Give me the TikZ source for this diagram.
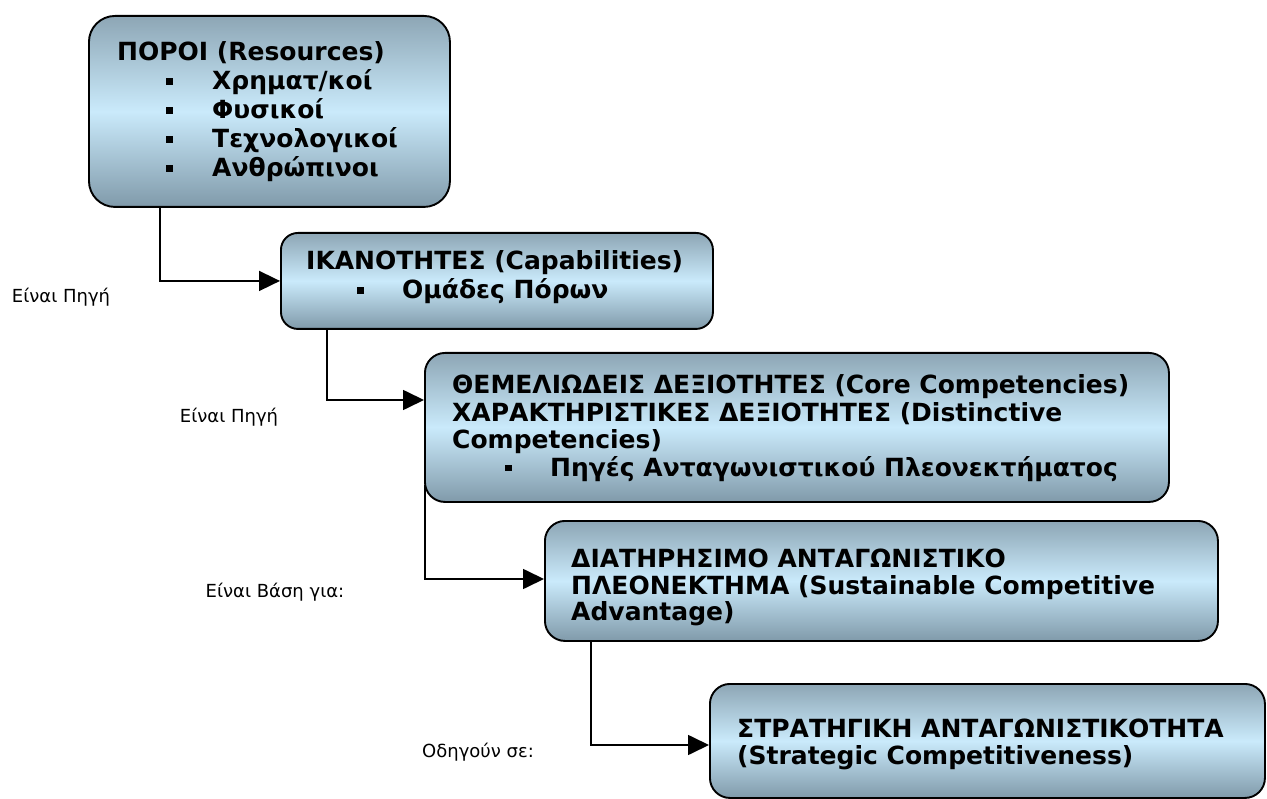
\documentclass[tikz,border=0pt]{standalone}
\usepackage{fontspec}
\setmainfont{DejaVu Sans}
\usetikzlibrary{arrows.meta,backgrounds}
\definecolor{boxtop}{RGB}{141,166,181}
\definecolor{boxmid}{RGB}{202,234,251}
\definecolor{boxbot}{RGB}{128,154,170}
\begin{document}
\begin{tikzpicture}[x=1pt,y=-1pt,
 box/.style={draw=black, line width=1.9pt, rounded corners=20pt, top color=boxtop, bottom color=boxbot, middle color=boxmid, anchor=north west, inner sep=0pt},
 txt/.style={anchor=base west, inner sep=0pt, font=\fontsize{25}{29}\selectfont\bfseries},
 lbl/.style={anchor=base, inner sep=0pt, font=\fontsize{18}{22}\selectfont},
 conn/.style={line width=1.7pt, -{Triangle[length=21pt,width=20pt]}}]
\path[use as bounding box] (0,0) rectangle (1267,799);
\newcommand{\sqbul}{\rule[5pt]{6.5pt}{6.5pt}}
% boxes
\node[box, rounded corners=26pt, minimum width=361pt, minimum height=191pt] (b1) at (88,15) {};
\node[box, rounded corners=17pt, minimum width=432pt, minimum height=96pt] (b2) at (280,232) {};
\node[box, minimum width=744pt, minimum height=149pt] (b3) at (424,352) {};
\node[box, minimum width=673pt, minimum height=120pt] (b4) at (544,520) {};
\node[box, minimum width=555pt, minimum height=114pt] (b5) at (709,683) {};
% background and connectors
\begin{scope}[on background layer]
\fill[white] (0,0) rectangle (1267,799);
\draw[conn] ([xshift=72pt,yshift=10pt]b1.south west) |- (b2.west);
\draw[conn] ([xshift=47pt,yshift=10pt]b2.south west) |- ([yshift=-48pt]b3.north west);
\draw[conn] ([xshift=1pt,yshift=18pt]b3.south west) |- ([yshift=-59pt]b4.north west);
\draw[conn] ([xshift=47pt,yshift=10pt]b4.south west) |- ([yshift=-62pt]b5.north west);
\end{scope}
% box 1 text
\node[txt] (r0) at (117,61) {ΠΟΡΟΙ (Resources)};
\node[txt] (r1b) at (166,90) {\sqbul};
\node[txt] (r1) at (212,90) {Χρηματ/κοί};
\node[txt] (r2b) at (166,119) {\sqbul};
\node[txt] (r2) at (212,119) {Φυσικοί};
\node[txt] (r3b) at (166,148) {\sqbul};
\node[txt] (r3) at (212,148) {Τεχνολογικοί};
\node[txt] (r4b) at (166,177) {\sqbul};
\node[txt] (r4) at (212,177) {Ανθρώπινοι};
% box 2 text
\node[txt] (c0) at (306,270) {ΙΚΑΝΟΤΗΤΕΣ (Capabilities)};
\node[txt] (c1b) at (357,299) {\sqbul};
\node[txt] (c1) at (402,299) {Ομάδες Πόρων};
% box 3 text
\node[txt] (d0) at (452,394) {ΘΕΜΕΛΙΩΔΕΙΣ ΔΕΞΙΟΤΗΤΕΣ (Core Competencies)};
\node[txt] (d1) at (452,422) {ΧΑΡΑΚΤΗΡΙΣΤΙΚΕΣ ΔΕΞΙΟΤΗΤΕΣ (Distinctive};
\node[txt] (d2) at (452,449) {Competencies)};
\node[txt] (d3b) at (505,476) {\sqbul};
\node[txt] (d3) at (550,476) {Πηγές Ανταγωνιστικού Πλεονεκτήματος};
% box 4 text
\node[txt] (s0) at (571,567) {ΔΙΑΤΗΡΗΣΙΜΟ ΑΝΤΑΓΩΝΙΣΤΙΚΟ};
\node[txt] (s1) at (571,594) {ΠΛΕΟΝΕΚΤΗΜΑ (Sustainable Competitive};
\node[txt] (s2) at (571,620) {Advantage)};
% box 5 text
\node[txt] (g0) at (737,737) {ΣΤΡΑΤΗΓΙΚΗ ΑΝΤΑΓΩΝΙΣΤΙΚΟΤΗΤΑ};
\node[txt] (g1) at (737,764) {(Strategic Competitiveness)};
% labels
\node[lbl] (l1) at (61,303) {Είναι Πηγή};
\node[lbl] (l2) at (229,423) {Είναι Πηγή};
\node[lbl] (l3) at (275,597) {Είναι Βάση για:};
\node[lbl] (l4) at (478,757) {Οδηγούν σε:};
\end{tikzpicture}
\end{document}
